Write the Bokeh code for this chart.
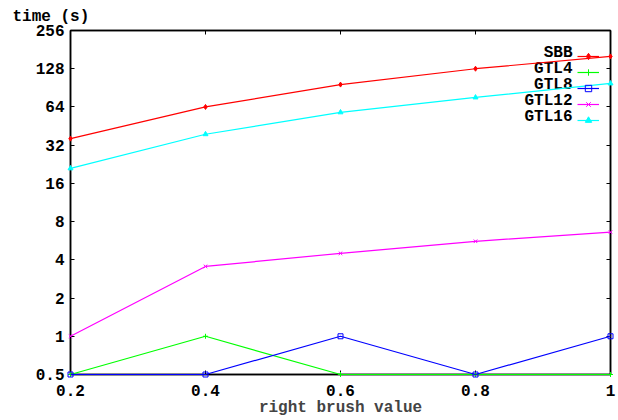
from bokeh.plotting import figure
from bokeh.models import (FixedTicker, LogAxis, LinearAxis, Legend, LegendItem,
                          Range1d, Title, Label, CustomLabelingPolicy)
from bokeh.embed import file_html
from bokeh.resources import INLINE

x_vals = [0.2, 0.4, 0.6, 0.8, 1.0]
sbb = [36, 64, 96, 128, 160]
gtl4 = [0.5, 1, 0.5, 0.5, 0.5]
gtl8 = [0.5, 0.5, 1, 0.5, 1]
gtl12 = [1, 3.55, 4.5, 5.6, 6.6]
gtl16 = [21, 39, 58, 76, 98]

y_ticks = [0.5, 1, 2, 4, 8, 16, 32, 64, 128, 256]
y_tick_labels = ["0.5", "1", "2", "4", "8", "16", "32", "64", "128", "256"]
x_ticks = [0.2, 0.4, 0.6, 0.8, 1.0]
x_tick_labels = ["0.2", "0.4", "0.6", "0.8", "1"]

FONT = "Liberation Mono"
FSIZE = "16px"

p = figure(width=618, height=420, y_axis_type="log",
           x_range=Range1d(0.2, 1.0), y_range=Range1d(0.5, 256),
           output_backend="svg", toolbar_location=None,
           min_border_left=70, min_border_right=8, min_border_top=30,
           min_border_bottom=46)
p.grid.visible = False
p.outline_line_color = "black"
p.outline_line_width = 1.5
p.background_fill_color = "white"
p.border_fill_color = "white"

hide_labels = CustomLabelingPolicy(code="""
    const idx = [...indices];
    for (const i of idx) { indices.unset(i); }
    return indices;
""")

def style_axis(ax, labels=True):
    ax.axis_line_color = "black"
    ax.axis_line_width = 1.5
    ax.major_tick_in = 4
    ax.major_tick_out = 0
    ax.minor_tick_in = 0
    ax.minor_tick_out = 0
    ax.major_tick_line_color = "black"
    ax.major_label_text_font = FONT
    ax.major_label_text_font_style = "bold"
    ax.major_label_text_font_size = FSIZE
    ax.major_label_text_color = "black"
    ax.major_label_standoff = 6
    if not labels:
        ax.major_label_policy = hide_labels
        ax.major_label_standoff = 0
        ax.major_label_text_font_size = "1px"

yax = p.yaxis[0]
yax.ticker = FixedTicker(ticks=y_ticks)
yax.major_label_overrides = {t: l for t, l in zip(y_ticks, y_tick_labels)}
style_axis(yax)

xax = p.xaxis[0]
xax.ticker = FixedTicker(ticks=x_ticks)
xax.major_label_overrides = {t: l for t, l in zip(x_ticks, x_tick_labels)}
style_axis(xax)
xax.major_label_standoff = 10
xax.axis_label = "right brush value"
xax.axis_label_text_font = FONT
xax.axis_label_text_font_style = "bold"
xax.axis_label_text_font_size = FSIZE
xax.axis_label_standoff = 0

rax = LogAxis(ticker=FixedTicker(ticks=y_ticks))
style_axis(rax, labels=False)
p.add_layout(rax, "right")
tax = LinearAxis(ticker=FixedTicker(ticks=x_ticks))
style_axis(tax, labels=False)
p.add_layout(tax, "above")

p.add_layout(Title(text="time (s)", align="left", offset=-58,
                   text_font=FONT, text_font_style="bold",
                   text_font_size=FSIZE, text_color="black",
                   standoff=2), "above")

series = [
    ("SBB", sbb, "#ff0000", "diamond"),
    ("GTL4", gtl4, "#00ff00", "cross"),
    ("GTL8", gtl8, "#0000ff", "square"),
    ("GTL12", gtl12, "#ff00ff", "x"),
    ("GTL16", gtl16, "#00ffff", "triangle"),
]

items = []
for name, ys, col, mk in series:
    ln = p.line(x_vals, ys, line_color=col, line_width=1.2, level="overlay")
    sc = p.scatter(x_vals, ys, marker=mk, size=5, line_color=col,
                   fill_color=col if mk in ("diamond", "triangle") else None,
                   line_width=1, level="overlay")
    items.append(LegendItem(label=" ", renderers=[ln, sc]))

legend = Legend(items=items, location=(507, 246), glyph_width=22,
                glyph_height=16, label_height=16, label_width=0,
                label_standoff=0, spacing=0, padding=0, margin=0,
                background_fill_alpha=0, border_line_alpha=0,
                label_text_font_size="2px")
p.add_layout(legend, "center")

for i, (name, ys, col, mk) in enumerate(series):
    p.add_layout(Label(x=502, y=322 - 16 * i, x_units="screen", y_units="screen",
                       text=name, text_align="right", text_baseline="middle",
                       text_font=FONT, text_font_style="bold",
                       text_font_size=FSIZE, text_color="black"))

open("out.html", "w").write(file_html(p, INLINE))
